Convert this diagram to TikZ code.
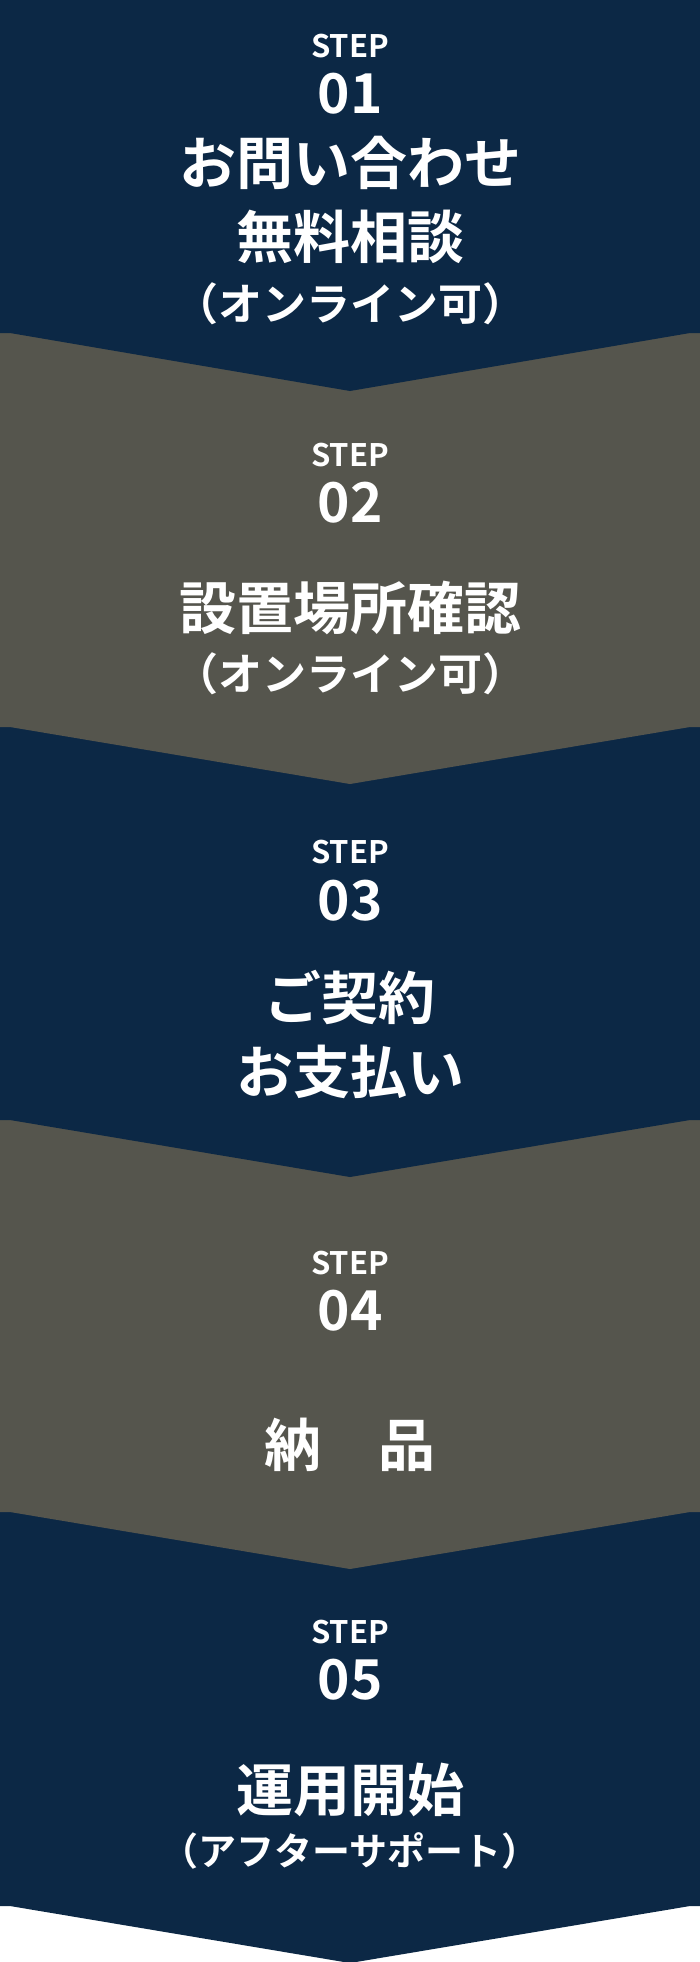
\documentclass[tikz,border=0pt]{standalone}
\usepackage{fontspec}
\setmainfont{Noto Sans CJK JP}[BoldFont={Noto Sans CJK JP Bold}]
\definecolor{navy}{HTML}{0C2845}
\definecolor{slate}{HTML}{55554D}
\begin{document}
\begin{tikzpicture}[x=1pt,y=-1pt,
  txt/.style={text=white,inner sep=0pt,anchor=base,font=\bfseries},
  steplbl/.style={txt,font=\fontsize{31}{31}\selectfont\bfseries},
  numlbl/.style={txt,font=\fontsize{55}{55}\selectfont\bfseries},
  titlelbl/.style={txt,font=\fontsize{57}{57}\selectfont\bfseries},
  sublbl/.style={txt,font=\fontsize{44}{44}\selectfont\bfseries},
  subsmall/.style={txt,font=\fontsize{38}{38}\selectfont\bfseries}]
\useasboundingbox (0,0) rectangle (700,1962);
\fill[white] (0,0) rectangle (700,1962);
% bands, painted bottom-up so each chevron overlays the next band
\fill[navy]  (0,1512) -- (700,1512) -- (700,1906) -- (690,1906) -- (350,1963) -- (10,1906) -- (0,1906) -- cycle;
\fill[slate] (0,1119) -- (700,1119) -- (700,1512) -- (690,1512) -- (350,1569) -- (10,1512) -- (0,1512) -- cycle;
\fill[navy]  (0,726) -- (700,726) -- (700,1120) -- (690,1120) -- (350,1177) -- (10,1120) -- (0,1120) -- cycle;
\fill[slate] (0,333) -- (700,333) -- (700,727) -- (690,727) -- (350,784) -- (10,727) -- (0,727) -- cycle;
\fill[navy]  (0,0) -- (700,0) -- (700,333) -- (690,333) -- (350,391) -- (10,333) -- (0,333) -- cycle;
% step 1
\node[steplbl]  (s1)  at (350,57)  {STEP};
\node[numlbl]   (n1)  at (350,113) {01};
\node[titlelbl] (t1a) at (350,184) {お問い合わせ};
\node[titlelbl] (t1b) at (350,258) {無料相談};
\node[sublbl]   (u1)  at (350,320) {（オンライン可）};
% step 2
\node[steplbl]  (s2)  at (350,466) {STEP};
\node[numlbl]   (n2)  at (350,522) {02};
\node[titlelbl] (t2)  at (350,629) {設置場所確認};
\node[sublbl]   (u2)  at (350,690) {（オンライン可）};
% step 3
\node[steplbl]  (s3)  at (350,863) {STEP};
\node[numlbl]   (n3)  at (350,920) {03};
\node[titlelbl] (t3a) at (350,1019) {ご契約};
\node[titlelbl] (t3b) at (350,1093) {お支払い};
% step 4
\node[steplbl]  (s4)  at (350,1274) {STEP};
\node[numlbl]   (n4)  at (350,1330) {04};
\node[titlelbl] (t4)  at (350,1466) {納　品};
% step 5
\node[steplbl]  (s5)  at (350,1643) {STEP};
\node[numlbl]   (n5)  at (350,1699) {05};
\node[titlelbl] (t5)  at (350,1811) {運用開始};
\node[subsmall] (u5)  at (350,1865) {（アフターサポート）};
\end{tikzpicture}
\end{document}
